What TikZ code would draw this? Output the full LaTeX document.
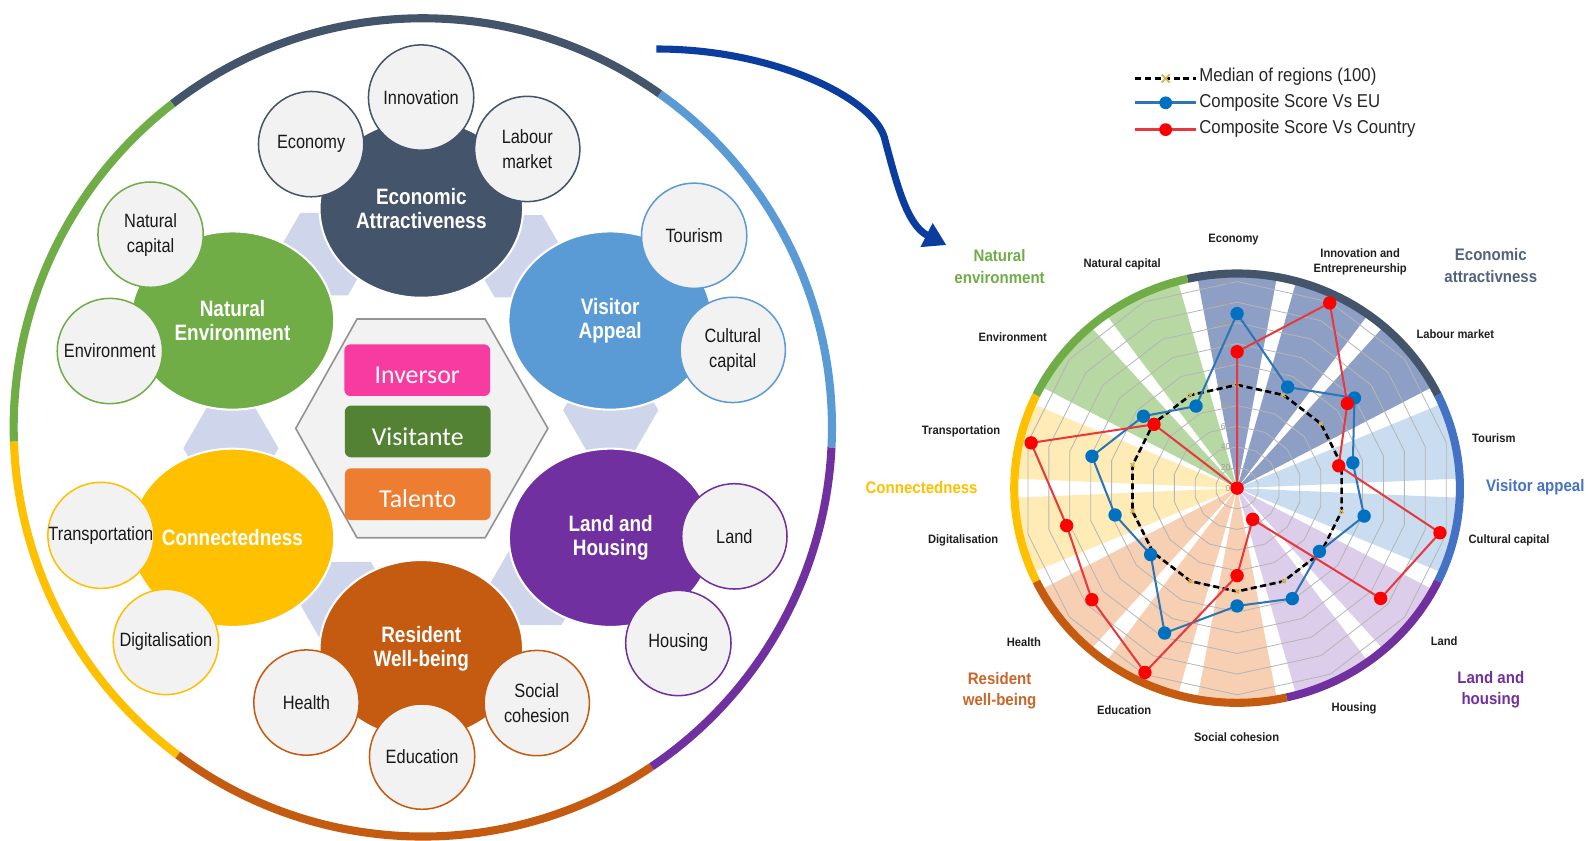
\documentclass[tikz,border=0pt]{standalone}
\usepackage{fontspec}
\setmainfont{Liberation Sans}
\newfontfamily\narrowf[FakeStretch=0.85]{Liberation Sans}
\newfontfamily\legf[FakeStretch=0.9]{Liberation Sans}
\newfontfamily\radf[FakeStretch=0.92]{Liberation Sans}
\newfontfamily\calibf{Carlito}
\usetikzlibrary{arrows.meta,shapes.geometric,calc}
\definecolor{cslate}{HTML}{44546A}
\definecolor{cblue}{HTML}{5B9BD5}
\definecolor{cpurple}{HTML}{7030A0}
\definecolor{cbrown}{HTML}{C55A11}
\definecolor{cyellow}{HTML}{FFC000}
\definecolor{cgreen}{HTML}{70AD47}
\definecolor{clav}{HTML}{CFD5EA}
\definecolor{cfill}{HTML}{F2F2F2}
\definecolor{cpink}{HTML}{F73BA0}
\definecolor{cvis}{HTML}{548235}
\definecolor{ctal}{HTML}{ED7D31}
\definecolor{carrow}{HTML}{0A3D9E}
\definecolor{rblue}{HTML}{4472C4}
\definecolor{wslate}{HTML}{8E9FC6}
\definecolor{wblue}{HTML}{C9DCF0}
\definecolor{wpurple}{HTML}{DCCDEB}
\definecolor{wbrown}{HTML}{F7CFB2}
\definecolor{wyellow}{HTML}{FFEBB5}
\definecolor{wgreen}{HTML}{B7D8A2}
\definecolor{ptblue}{HTML}{0070C0}
\definecolor{lnblue}{HTML}{2E75B6}
\definecolor{ptred}{HTML}{FF0000}
\definecolor{lnred}{HTML}{E8383D}
\definecolor{catslate}{HTML}{53627E}
\definecolor{catbrown}{HTML}{C8662A}
\definecolor{ymk}{HTML}{D9B44A}
\definecolor{cgrid}{HTML}{B5B5B5}
\begin{document}
\begin{tikzpicture}[x=1pt,y=-1pt,
  mainell/.style={ellipse, minimum width=201pt, minimum height=176pt, inner sep=0pt, draw=white, line width=2pt, text=white, align=center, font=\narrowf\bfseries\fontsize{22}{23.5}\selectfont},
  subc/.style={circle, minimum size=104pt, inner sep=0pt, fill=cfill, line width=1.5pt, align=center, text=black!90, font=\narrowf\fontsize{19}{24.5}\selectfont},
  rolebox/.style={rectangle, rounded corners=6pt, minimum width=144pt, minimum height=51pt, inner sep=0pt, text=white, text height=27pt, text depth=0pt, font=\calibf\fontsize{25.5}{30}\selectfont},
  ringL/.style={line width=8pt},
  ringR/.style={line width=8pt},
  gridl/.style={draw=cgrid, line width=0.8pt},
  median/.style={black, line width=2.6pt, dash pattern=on 6pt off 3.5pt},
  lnb/.style={lnblue, line width=2pt},
  lnr/.style={lnred, line width=2pt},
  axl/.style={align=center, text=black!88, inner sep=0pt, font=\radf\bfseries\fontsize{12}{15}\selectfont},
  catl/.style={align=center, inner sep=0pt, font=\legf\bfseries\fontsize{16.5}{21.5}\selectfont},
  vall/.style={anchor=east, inner sep=0pt, text=gray!75, font=\fontsize{8.5}{9}\selectfont},
  legt/.style={anchor=west, inner sep=0pt, text=black!85, font=\legf\fontsize{18.4}{20}\selectfont},
  ymark/.style={ymk, line width=1.3pt},
  bigarrow/.style={carrow, line width=7pt, -{Triangle[length=22pt,width=25pt]}}
]
\useasboundingbox (0,0) rectangle (1568,830);

% ---------------- left diagram: outer ring ----------------
\begin{scope}[shift={(417.5,422)}, x=1pt, y=1pt]
  \draw[ringL, cslate]  (54.6:404)  arc[start angle=54.6,  end angle=127.7, radius=404];
  \draw[ringL, cgreen]  (127.7:404) arc[start angle=127.7, end angle=182,   radius=404];
  \draw[ringL, cyellow] (182:404)   arc[start angle=182,   end angle=233.2, radius=404];
  \draw[ringL, cbrown]  (233.2:404) arc[start angle=233.2, end angle=304,   radius=404];
  \draw[ringL, cpurple] (304:404)   arc[start angle=304,   end angle=357.2, radius=404];
  \draw[ringL, cblue]   (357.2:404) arc[start angle=357.2, end angle=414.6, radius=404];
\end{scope}

% ---------------- lavender connector hexagons ----------------
\foreach \cx/\cy in {320/251, 512/253, 228/442.6, 603/405, 342.6/595.4, 530.7/576.6}
  \fill[clav] (\cx,\cy) ++(47,0) -- ++(-23.5,40.7) -- ++(-47,0) -- ++(-23.5,-40.7) -- ++(23.5,-40.7) -- ++(47,0) -- cycle;

% ---------------- centre hexagon and role boxes ----------------
\draw[fill=cfill, draw=gray!85, line width=1.6pt] (352.5,315) -- (479,315) -- (541,423) -- (479,531) -- (352.5,531) -- (292,423) -- cycle;
\node[rolebox, fill=cpink] (inv) at (412,365.5) {Inversor};
\node[rolebox, fill=cvis]  (vis) at (412.5,426) {Visitante};
\node[rolebox, fill=ctal]  (tal) at (412.5,488) {Talento};

% ---------------- main ellipses ----------------
\node[mainell, fill=cslate]  (econ) at (416,206)   {Economic\\Attractiveness};
\node[mainell, fill=cgreen]  (natu) at (229.5,316.5) {Natural\\Environment};
\node[mainell, fill=cblue]   (visi) at (602.5,316.5) {Visitor\\Appeal};
\node[mainell, fill=cyellow] (conn) at (229.5,531) {Connectedness};
\node[mainell, fill=cpurple] (land) at (603,531)   {Land and\\Housing};
\node[mainell, fill=cbrown]  (resi) at (416,641)   {Resident\\Well-being};

% ---------------- sub circles ----------------
\node[subc, draw=cslate]  (s-eco) at (307.2,142.3) {Economy};
\node[subc, draw=cslate]  (s-inn) at (415.8,96.3)  {Innovation};
\node[subc, draw=cslate]  (s-lab) at (520.6,147.1) {Labour\\market};
\node[subc, draw=cgreen]  (s-nat) at (148.7,231.7) {Natural\\capital};
\node[subc, draw=cgreen]  (s-env) at (108.5,346.6) {Environment};
\node[subc, draw=cblue]   (s-tou) at (685.4,232.8) {Tourism};
\node[subc, draw=cblue]   (s-cul) at (723.5,345.5) {Cultural\\capital};
\node[subc, draw=cyellow] (s-tra) at (99.6,528.6)  {Transportation};
\node[subc, draw=cyellow] (s-dig) at (163.8,633.9) {Digitalisation};
\node[subc, draw=cpurple] (s-lan) at (725.1,529.6) {Land};
\node[subc, draw=cpurple] (s-hou) at (669.8,634.9) {Housing};
\node[subc, draw=cbrown]  (s-hea) at (302.6,693.7) {Health};
\node[subc, draw=cbrown]  (s-edu) at (416.8,747.1) {Education};
\node[subc, draw=cbrown]  (s-soc) at (530,694.2)   {Social\\cohesion};

% ---------------- curved arrow ----------------
\coordinate (arrS) at (648,48.4);
\coordinate (arrM) at (873,135);
\coordinate (arrE) at (934.5,242);
\draw[bigarrow] (arrS) .. controls (760,48) and (860,95) .. (arrM) .. controls (885,180) and (895,222) .. (arrE);

% ---------------- radar chart ----------------
\begin{scope}[shift={(1221.5,482)}, x=1.059pt, y=1.02pt]
  \foreach \k/\c in {0/wslate,1/wslate,2/wslate,3/wblue,4/wblue,5/wpurple,6/wpurple,7/wbrown,8/wbrown,9/wbrown,10/wyellow,11/wyellow,12/wgreen,13/wgreen}{
    \pgfmathsetmacro\aa{90-25.7143*\k-10.3}
    \pgfmathsetmacro\ab{90-25.7143*\k+10.3}
    \fill[\c] (0,0) -- (\aa:205) arc[start angle=\aa, end angle=\ab, radius=205] -- cycle;
  }
  \foreach \v in {20,40,...,200}{
    \draw[gridl] (90:\v) \foreach \k in {1,...,13}{ -- ({90-25.7143*\k}:\v)} -- cycle;
  }
  \foreach \v in {0,20,...,200}
    \node[vall] (val\v) at (-6,\v) {\v};
  % outer ring
  \draw[ringR, cslate]  (25.714:207.8)  arc[start angle=25.714,  end angle=102.857, radius=207.8];
  \draw[ringR, rblue]   (-25.714:207.8) arc[start angle=-25.714, end angle=25.714,  radius=207.8];
  \draw[ringR, cpurple] (-77.143:207.8) arc[start angle=-77.143, end angle=-25.714, radius=207.8];
  \draw[ringR, cbrown]  (-154.286:207.8) arc[start angle=-154.286, end angle=-77.143, radius=207.8];
  \draw[ringR, cyellow] (154.286:207.8) arc[start angle=154.286, end angle=205.714, radius=207.8];
  \draw[ringR, cgreen]  (102.857:207.8) arc[start angle=102.857, end angle=154.286, radius=207.8];
  % median
  \foreach \k in {0,...,13}
    \coordinate (m\k) at ({90-25.7143*\k}:100);
  \draw[median] (m0) \foreach \k in {1,...,13}{ -- (m\k)} -- cycle;
  \foreach \k in {0,...,13}
    \draw[ymark] ([shift={(-2pt,-2pt)}]m\k) -- ([shift={(2pt,2pt)}]m\k) ([shift={(-2pt,2pt)}]m\k) -- ([shift={(2pt,-2pt)}]m\k);
  % data
  \foreach \k/\v in {0/169,1/108.6,2/140,3/110.7,4/121.5,5/98.2,6/118.7,7/114,8/155.7,9/103.1,10/116.7,11/138.8,12/111.7,13/88.2}
    \coordinate (b\k) at ({90-25.7143*\k}:\v);
  \foreach \k/\v in {0/132,1/199,2/131.5,3/97.2,4/194,5/171.2,6/33.5,7/84.7,8/198,9/173.2,10/163,11/197,12/99.1,13/0}
    \coordinate (r\k) at ({90-25.7143*\k}:\v);
  \draw[lnb] (b0) \foreach \k in {1,...,13}{ -- (b\k)} -- cycle;
  \draw[lnr] (r0) \foreach \k in {1,...,13}{ -- (r\k)} -- cycle;
  \foreach \k in {0,...,13}
    \fill[ptblue] (b\k) circle[radius=6.6pt];
  \foreach \k in {0,...,13}
    \fill[ptred] (r\k) circle[radius=6.6pt];
\end{scope}

% axis labels
\node[axl] (lab-eco) at (1218,237)   {Economy};
\node[axl] (lab-inn) at (1343,258.5) {Innovation and\\Entrepreneurship};
\node[axl] (lab-lab) at (1437,330)   {Labour market};
\node[axl] (lab-tou) at (1475,433)   {Tourism};
\node[axl] (lab-cul) at (1490,534)   {Cultural capital};
\node[axl] (lab-lan) at (1426,633)   {Land};
\node[axl] (lab-hou) at (1337,699)   {Housing};
\node[axl] (lab-soc) at (1221,728)   {Social cohesion};
\node[axl] (lab-edu) at (1110,701)   {Education};
\node[axl] (lab-hea) at (1011,634)   {Health};
\node[axl] (lab-dig) at (951,534)    {Digitalisation};
\node[axl] (lab-tra) at (949,426)    {Transportation};
\node[axl] (lab-env) at (1000,333)   {Environment};
\node[axl] (lab-nat) at (1108,261)   {Natural capital};

% category labels
\node[catl, text=cgreen]   (cat-nat) at (987,263)  {Natural\\environment};
\node[catl, text=catslate] (cat-eco) at (1472,262) {Economic\\attractivness};
\node[catl, text=rblue]    (cat-vis) at (1516,481) {Visitor appeal};
\node[catl, text=cpurple]  (cat-lan) at (1472,681) {Land and\\housing};
\node[catl, text=catbrown] (cat-res) at (987,682)  {Resident\\well-being};
\node[catl, text=cyellow]  (cat-con) at (910,481)  {Connectedness};

% legend
\coordinate (lg1a) at (1121,77.5);  \coordinate (lg1b) at (1181,77.5);
\coordinate (lg2a) at (1121,101.5); \coordinate (lg2b) at (1181,101.5);
\coordinate (lg3a) at (1121,128);   \coordinate (lg3b) at (1181,128);
\coordinate (lg1m) at ($(lg1a)!0.5!(lg1b)$);
\draw[median] (lg1a) -- (lg1b);
\draw[ymark, line width=1.8pt] ([shift={(-4pt,-4pt)}]lg1m) -- ([shift={(4pt,4pt)}]lg1m);
\draw[ymark, line width=1.8pt] ([shift={(-4pt,4pt)}]lg1m) -- ([shift={(4pt,-4pt)}]lg1m);
\draw[lnb, line width=2.6pt] (lg2a) -- (lg2b);
\fill[ptblue] ($(lg2a)!0.5!(lg2b)$) circle[radius=6.3pt];
\draw[lnr, line width=2.6pt] (lg3a) -- (lg3b);
\fill[ptred] ($(lg3a)!0.5!(lg3b)$) circle[radius=6.3pt];
\node[legt] (leg1) at (1184,76)    {Median of regions (100)};
\node[legt] (leg2) at (1184,101.5) {Composite Score Vs EU};
\node[legt] (leg3) at (1184,127.5) {Composite Score Vs Country};
\end{tikzpicture}
\end{document}
